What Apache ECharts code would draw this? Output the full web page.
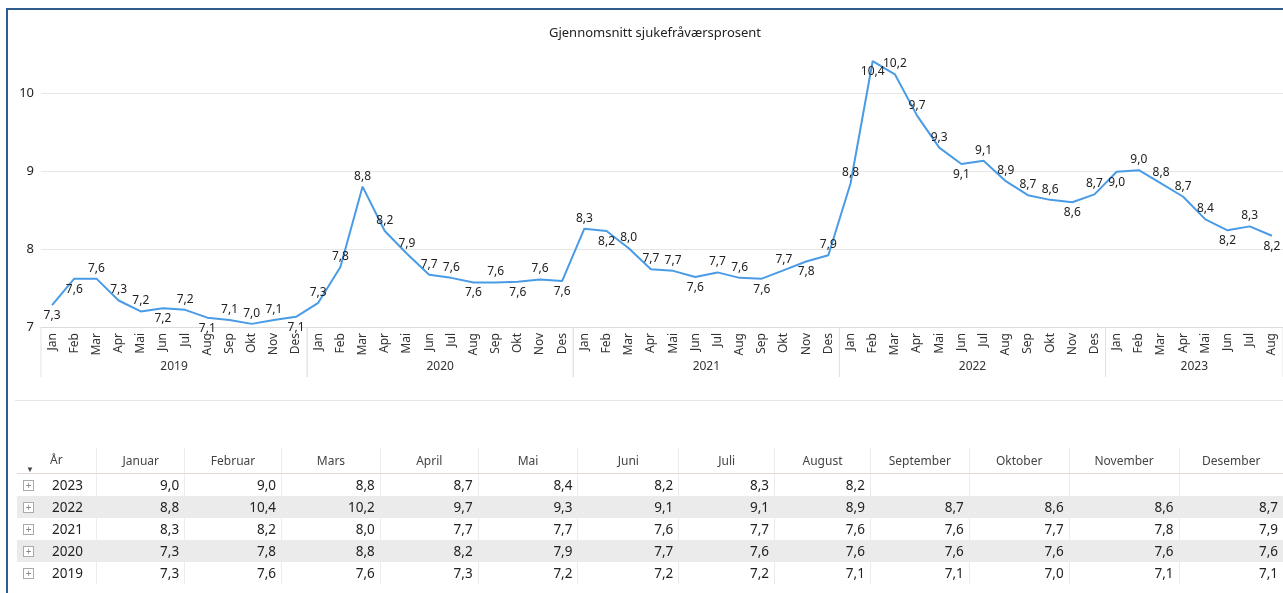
<!DOCTYPE html>
<html>
<head>
<meta charset="utf-8">
<script src="https://cdn.jsdelivr.net/npm/echarts/dist/echarts.min.js"></script>
<style>
  body { margin: 0; background: #fff; font-family: "Noto Sans", sans-serif; }
  #wrap { position: relative; width: 1283px; height: 593px; overflow: hidden; }
  #main { position: absolute; left: 0; top: 0; width: 1283px; height: 593px; }
  #frame { position: absolute; left: 6px; top: 8px; right: -10px; bottom: -10px;
    border-left: 2px solid #2f5b8f; border-top: 2px solid #2f5b8f; pointer-events: none; }
  #sep { position: absolute; left: 15px; right: 0; top: 400px; height: 0; border-top: 1px solid #e6e6e6; }
  #tbl { position: absolute; left: 17px; top: 448px; border-collapse: collapse; table-layout: fixed; color: #222; }
  #tbl th { font-weight: normal; font-size: 12px; color: #444; height: 25px; text-align: center;
    border-bottom: 1px solid #e3d9d5; border-left: 1px solid #ececec; padding: 0; vertical-align: middle; }
  #tbl td { font-size: 13.5px; height: 22px; padding: 0 5px 0 0; text-align: right; border-left: 1px solid #ececec; }
  #tbl th.first, #tbl td.first { border-left: none; text-align: left; position: relative; }
  #tbl tr.alt td { background: #ebebeb; }
  .plus { position: absolute; left: 6px; top: 6px; width: 9px; height: 9px; border: 1px solid #aaa;
    font-size: 10px; line-height: 9px; text-align: center; color: #888; background: #fff; }
  .yr { position: absolute; left: 35px; top: 2px; }
</style>
</head>
<body>
<div id="wrap">
  <div id="main"></div>
  <div id="frame"></div>
  <div id="sep"></div>
  <table id="tbl"></table>
</div>
<script>
// månedlige snitt (sjukefråværsprosent)
const v2019 = [7.28, 7.62, 7.62, 7.34, 7.20, 7.24, 7.22, 7.12, 7.09, 7.04, 7.09, 7.13]
const v2020 = [7.31, 7.77, 8.80, 8.23, 7.94, 7.67, 7.63, 7.57, 7.57, 7.58, 7.61, 7.59]
const v2021 = [8.26, 8.23, 8.01, 7.74, 7.72, 7.64, 7.70, 7.63, 7.62, 7.73, 7.84, 7.92]
const v2022 = [8.84, 10.41, 10.24, 9.71, 9.30, 9.09, 9.13, 8.87, 8.69, 8.63, 8.60, 8.70]
const v2023 = [8.99, 9.01, 8.84, 8.67, 8.38, 8.24, 8.29, 8.17]

const years = ['2019', '2020', '2021', '2022', '2023']
const yearValues = [v2019, v2020, v2021, v2022, v2023]
const monthShort = ['Jan', 'Feb', 'Mar', 'Apr', 'Mai', 'Jun', 'Jul', 'Aug', 'Sep', 'Okt', 'Nov', 'Des']
const monthLong = ['Januar', 'Februar', 'Mars', 'April', 'Mai', 'Juni', 'Juli', 'August', 'September', 'Oktober', 'November', 'Desember']
const yTicks = [7, 8, 9, 10]

// labels that sit under the line
const labelsBelow = [0, 1, 5, 7, 11, 19, 21, 23, 25, 29, 32, 34, 37, 41, 46, 48, 53, 55]

const fmt = v => v.toFixed(1).replace('.', ',')
const FONT = '"Noto Sans", sans-serif'

let categories = []
let values = []
let yearSpans = []
yearValues.forEach((arr, i) => {
  const start = values.length
  arr.forEach((v, m) => {
    categories.push(monthShort[m])
    values.push(v)
  })
  yearSpans.push([start, values.length - 1, yTicks[0]])
})

const chart = echarts.init(document.getElementById('main'))
const option = {
  animation: false,
  textStyle: { fontFamily: FONT },
  title: {
    text: 'Gjennomsnitt sjukefråværsprosent',
    left: 650, top: 22, textAlign: 'center',
    textStyle: { fontSize: 13, fontWeight: 'normal', color: '#222', fontFamily: FONT }
  },
  grid: { left: 41, right: -1, top: 54, bottom: 266 },
  xAxis: {
    type: 'category',
    data: categories,
    boundaryGap: true,
    axisLine: { lineStyle: { color: '#dcdcdc' } },
    axisTick: { show: false },
    axisLabel: { rotate: 90, interval: 0, fontSize: 12, color: '#333', margin: 6, fontFamily: FONT }
  },
  yAxis: {
    type: 'value',
    min: yTicks[0], max: 10.5, interval: 1,
    axisLine: { show: false },
    axisTick: { show: false },
    axisLabel: { fontSize: 13, color: '#222', margin: 7, showMaxLabel: false, fontFamily: FONT },
    splitLine: { showMaxLine: false, lineStyle: { color: '#e6e6e6' } }
  },
  series: [
    {
      type: 'line',
      data: values.map((v, i) => ({
        value: v,
        label: { show: true, position: labelsBelow.includes(i) ? 'bottom' : 'top' }
      })),
      symbol: 'circle',
      symbolSize: 1,
      showSymbol: true,
      itemStyle: { color: 'rgba(0,0,0,0)', borderWidth: 0 },
      lineStyle: { color: '#4a9be6', width: 2 },
      label: {
        show: true, distance: 4, fontSize: 12, color: '#222', fontFamily: FONT,
        formatter: p => fmt(p.value)
      },
      labelLayout: { hideOverlap: false },
      z: 3
    },
    {
      type: 'custom',
      silent: true,
      data: yearSpans,
      encode: { x: [0, 1], y: 2 },
      renderItem: (params, api) => {
        const s = api.coord([api.value(0), api.value(2)])
        const e = api.coord([api.value(1), api.value(2)])
        const w = api.size([1, 0])[0]
        const x0 = s[0] - w / 2
        const x1 = e[0] + w / 2
        const y0 = s[1]
        const ls = { stroke: '#e3e3e3', lineWidth: 1 }
        return {
          type: 'group',
          children: [
            { type: 'line', shape: { x1: x0, y1: y0, x2: x0, y2: y0 + 50 }, style: ls },
            { type: 'line', shape: { x1: x1, y1: y0, x2: x1, y2: y0 + 50 }, style: ls },
            {
              type: 'text',
              style: {
                text: years[params.dataIndex], x: (x0 + x1) / 2, y: y0 + 40,
                textAlign: 'center', textVerticalAlign: 'middle',
                fontSize: 12, fill: '#333', fontFamily: FONT
              }
            }
          ]
        }
      }
    }
  ]
}
chart.setOption(option)

// tabellen under grafen
const colWidths = [80, 88, 97, 99, 98, 100, 101, 96, 96, 99, 100, 110, 104]
const tbl = document.getElementById('tbl')
let html = '<colgroup>' + colWidths.map(w => `<col style="width:${w}px">`).join('') + '</colgroup>'
html += '<tr><th class="first"><span style="position:absolute;left:9px;top:15px;font-size:8px">▼</span>'
  + '<span style="position:absolute;left:33px;top:3px">År</span></th>'
  + monthLong.map(m => `<th>${m}</th>`).join('') + '</tr>'
const order = years.map((y, i) => i).reverse()
order.forEach((yi, r) => {
  const arr = yearValues[yi]
  html += `<tr class="${r % 2 === 1 ? 'alt' : ''}"><td class="first"><span class="plus">+</span><span class="yr">${years[yi]}</span></td>`
  for (let m = 0; m < 12; m++) {
    html += `<td>${m < arr.length ? fmt(arr[m]) : ''}</td>`
  }
  html += '</tr>'
})
tbl.innerHTML = html
</script>
</body>
</html>
